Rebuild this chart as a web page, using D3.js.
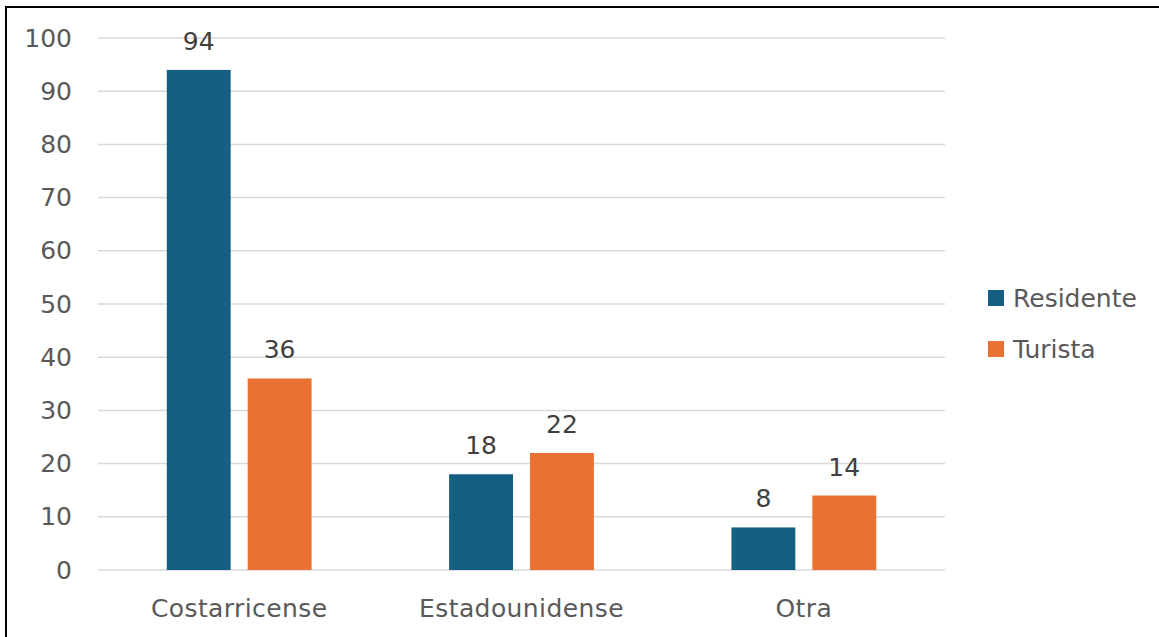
<!DOCTYPE html>
<html>
<head>
<meta charset="utf-8">
<script src="https://cdn.jsdelivr.net/npm/d3@7"></script>
<style>
  html, body { margin: 0; padding: 0; background: #fff; }
  svg { display: block; }
  text { font-family: "DejaVu Sans", "Liberation Sans", sans-serif; fill: #595959; }
</style>
</head>
<body>
<svg id="chart" width="1159" height="637"></svg>
<script>
// Nationality of respondents, by group
const categories = ["Costarricense", "Estadounidense", "Otra"];
const seriesNames = ["Residente", "Turista"];
const residente = [94, 18, 8];
const turista = [36, 22, 14];
const yTicks = [0, 10, 20, 30, 40, 50, 60, 70, 80, 90, 100];
const colors = ["#156082", "#E97132"];

const FONT = "'DejaVu Sans', 'Liberation Sans', sans-serif";
const FS = 25;

const svg = d3.select("#chart");
const W = 1159, H = 637;
const plot = { left: 98, right: 945, top: 38, bottom: 570 };

// Frame lines (top and left edges)
svg.append("line").attr("x1", 6).attr("x2", W).attr("y1", 7).attr("y2", 7)
  .attr("stroke", "#000").attr("stroke-width", 2);
svg.append("line").attr("x1", 6).attr("x2", 6).attr("y1", 6).attr("y2", H)
  .attr("stroke", "#000").attr("stroke-width", 2);

const x0 = d3.scaleBand().domain(categories).range([plot.left, plot.right]).paddingInner(0).paddingOuter(0);
const x1 = d3.scaleBand().domain(seriesNames).range([0, x0.bandwidth()]).paddingInner(0.21).paddingOuter(0.85);
const y = d3.scaleLinear().domain([0, 100]).range([plot.bottom, plot.top]);

// Gridlines
svg.append("g").selectAll("line").data(yTicks).join("line")
  .attr("x1", plot.left).attr("x2", plot.right)
  .attr("y1", d => y(d)).attr("y2", d => y(d))
  .attr("stroke", "#d9d9d9").attr("stroke-width", 1.5);

// Y axis labels
const yAxis = d3.axisLeft(y).tickValues(yTicks).tickSize(0).tickPadding(0);
const gy = svg.append("g").attr("transform", "translate(72,0)").call(yAxis);
gy.select(".domain").remove();
gy.selectAll("text").attr("font-size", FS).style("fill", "#595959").style("font-family", FONT);

// X axis labels
const xAxis = d3.axisBottom(x0).tickSize(0).tickPadding(0);
const gx = svg.append("g").attr("transform", `translate(0,${plot.bottom + 29})`).call(xAxis);
gx.select(".domain").remove();
gx.selectAll("text").attr("font-size", FS).style("fill", "#595959").style("font-family", FONT)
  .style("letter-spacing", "0.4px");

const rows = categories.map((c, i) => ({
  cat: c,
  vals: [
    { s: seriesNames[0], v: residente[i], c: colors[0] },
    { s: seriesNames[1], v: turista[i], c: colors[1] }
  ]
}));

const groups = svg.append("g").selectAll("g").data(rows).join("g")
  .attr("transform", d => `translate(${x0(d.cat)},0)`);

groups.selectAll("rect").data(d => d.vals).join("rect")
  .attr("x", d => x1(d.s))
  .attr("width", x1.bandwidth())
  .attr("y", d => y(d.v))
  .attr("height", d => y(0) - y(d.v))
  .attr("fill", d => d.c);

groups.selectAll("text.val").data(d => d.vals).join("text")
  .attr("class", "val")
  .attr("x", d => x1(d.s) + x1.bandwidth() / 2)
  .attr("y", d => y(d.v) - 20)
  .attr("text-anchor", "middle")
  .attr("font-size", FS)
  .style("fill", "#404040")
  .text(d => d.v);

// Legend
const legend = svg.append("g").attr("transform", "translate(988,290)");
const li = legend.selectAll("g").data(seriesNames).join("g")
  .attr("transform", (d, i) => `translate(0,${i * 51})`);
li.append("rect").attr("width", 16).attr("height", 16).attr("fill", (d, i) => colors[i]);
li.append("text").attr("x", 25).attr("y", 8).attr("dy", "0.35em")
  .attr("font-size", FS).text(d => d);
</script>
</body>
</html>
